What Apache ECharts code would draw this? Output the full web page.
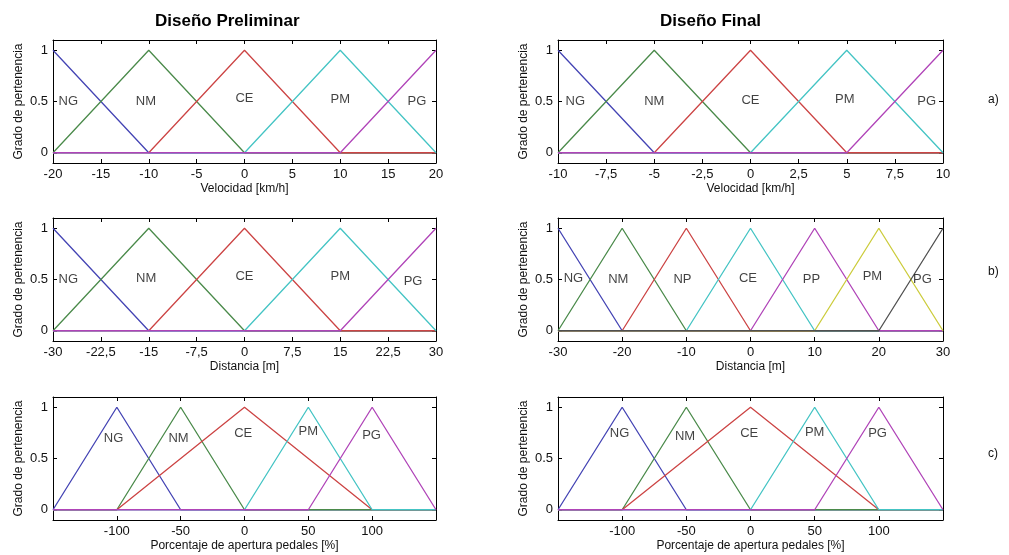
<!DOCTYPE html>
<html><head><meta charset="utf-8">
<script src="https://cdn.jsdelivr.net/npm/echarts@6/dist/echarts.min.js"></script>
<style>html,body{margin:0;padding:0;background:#fff}#c{width:1009px;height:555px}</style>
</head><body><div id="c"></div>
<script>
// ---- data ----
const titles = ['Diseño Preliminar', 'Diseño Final'];
const rowTags = ['a)', 'b)', 'c)'];
const xNames = ['Velocidad [km/h]', 'Distancia [m]', 'Porcentaje de apertura pedales [%]'];
const yName = 'Grado de pertenencia';
const yTicks = [0, 0.5, 1];

// ranges [min, max]
const rangeA1 = [-20, 20], rangeA2 = [-10, 10];
const rangeB1 = [-30, 30], rangeB2 = [-30, 30];
const rangeC1 = [-150, 150], rangeC2 = [-150, 150];
// tick labels
const ticksA1 = [-20, -15, -10, -5, 0, 5, 10, 15, 20];
const ticksA2 = [-10, -7.5, -5, -2.5, 0, 2.5, 5, 7.5, 10];
const ticksB1 = [-30, -22.5, -15, -7.5, 0, 7.5, 15, 22.5, 30];
const ticksB2 = [-30, -20, -10, 0, 10, 20, 30];
const ticksC = [-100, -50, 0, 50, 100];

// membership functions: names and triangle params [a, b, c]
const namesA = ['NG', 'NM', 'CE', 'PM', 'PG'];
const mfA1 = [[-30, -20, -10], [-20, -10, 0], [-10, 0, 10], [0, 10, 20], [10, 20, 30]];
const mfA2 = [[-15, -10, -5], [-10, -5, 0], [-5, 0, 5], [0, 5, 10], [5, 10, 15]];
const mfB1 = [[-45, -30, -15], [-30, -15, 0], [-15, 0, 15], [0, 15, 30], [15, 30, 45]];
const namesB2 = ['NG', 'NM', 'NP', 'CE', 'PP', 'PM', 'PG'];
const mfB2 = [[-40, -30, -20], [-30, -20, -10], [-20, -10, 0], [-10, 0, 10], [0, 10, 20], [10, 20, 30], [20, 30, 40]];
const mfC = [[-150, -100, -50], [-100, -50, 0], [-100, 0, 100], [0, 50, 100], [50, 100, 150]];

// text annotation positions [x, y] (data coords)
const lblA1 = [[-18.4, 0.5], [-10.3, 0.5], [0, 0.53], [10, 0.52], [18, 0.5]];
const lblA2 = [[-9.1, 0.5], [-5, 0.5], [0, 0.51], [4.9, 0.52], [9.15, 0.5]];
const lblB1 = [[-27.6, 0.5], [-15.4, 0.51], [0, 0.53], [15, 0.53], [26.4, 0.48]];
const lblB2 = [[-27.6, 0.51], [-20.6, 0.5], [-10.6, 0.5], [-0.4, 0.51], [9.5, 0.5], [19, 0.53], [26.8, 0.5]];
const lblC1 = [[-102.6, 0.7], [-51.7, 0.7], [-1, 0.745], [50, 0.76], [99.5, 0.73]];
const lblC2 = [[-102, 0.74], [-51, 0.72], [-1, 0.745], [50, 0.75], [99, 0.745]];

const colors = ['#4444b4', '#4a8a4a', '#cc4444', '#44c4c4', '#b044b8', '#cccc3c', '#505050'];

// ---- layout ----
const plots = [
  {grid: {left: 53, top: 40, width: 383, height: 123}, range: rangeA1, ticks: ticksA1, mf: mfA1, names: namesA, lbl: lblA1, xn: xNames[0]},
  {grid: {left: 558, top: 40, width: 385, height: 123}, range: rangeA2, ticks: ticksA2, mf: mfA2, names: namesA, lbl: lblA2, xn: xNames[0]},
  {grid: {left: 53, top: 218, width: 383, height: 123}, range: rangeB1, ticks: ticksB1, mf: mfB1, names: namesA, lbl: lblB1, xn: xNames[1]},
  {grid: {left: 558, top: 218, width: 385, height: 123}, range: rangeB2, ticks: ticksB2, mf: mfB2, names: namesB2, lbl: lblB2, xn: xNames[1]},
  {grid: {left: 53, top: 397, width: 383, height: 123}, range: rangeC1, ticks: ticksC, mf: mfC, names: namesA, lbl: lblC1, xn: xNames[2]},
  {grid: {left: 558, top: 397, width: 385, height: 123}, range: rangeC2, ticks: ticksC, mf: mfC, names: namesA, lbl: lblC2, xn: xNames[2]}
];

function trimf(x, p) {
  const [a, b, c] = p;
  if (x <= a || x >= c) return (x === b) ? 1 : 0;
  if (x <= b) return b === a ? 1 : (x - a) / (b - a);
  return c === b ? 1 : (c - x) / (c - b);
}
function mfPoints(p, range) {
  const xs = [range[0], p[0], p[1], p[2], range[1]]
    .filter(x => x >= range[0] && x <= range[1]);
  const uniq = [...new Set(xs)].sort((u, v) => u - v);
  return uniq.map(x => [x, trimf(x, p)]);
}

const FONT = 'Liberation Sans, Arial, sans-serif';
const fmt = v => String(v).replace('.', ',');
const grids = [], xAxis = [], yAxis = [], series = [];
const lineAx = {show: true, onZero: false, lineStyle: {color: '#000', width: 1}};
const tickAx = vals => ({show: true, inside: true, length: 4, lineStyle: {color: '#000'}, customValues: vals});

plots.forEach((pl, i) => {
  grids.push(Object.assign({containLabel: false}, pl.grid));
  const xi = xAxis.length;
  xAxis.push({
    type: 'value', gridIndex: i, position: 'bottom', min: pl.range[0], max: pl.range[1],
    axisLine: lineAx, axisTick: tickAx(pl.ticks), splitLine: {show: false},
    axisLabel: {customValues: pl.ticks, formatter: fmt, color: '#111', fontSize: 13, fontFamily: FONT, margin: 5, showMinLabel: true, showMaxLabel: true},
    name: pl.xn, nameLocation: 'middle', nameGap: 20,
    nameTextStyle: {fontSize: 12, fontFamily: FONT, color: '#111'}
  });
  xAxis.push({
    type: 'value', gridIndex: i, position: 'top', min: pl.range[0], max: pl.range[1],
    axisLine: lineAx, axisTick: tickAx(pl.ticks), splitLine: {show: false}, axisLabel: {show: false}
  });
  const yi = yAxis.length;
  yAxis.push({
    type: 'value', gridIndex: i, position: 'left', min: -0.1, max: 1.1,
    axisLine: lineAx, axisTick: tickAx(yTicks), splitLine: {show: false},
    axisLabel: {customValues: yTicks, color: '#111', fontSize: 13, fontFamily: FONT, margin: 5},
    name: yName, nameLocation: 'middle', nameRotate: 90, nameGap: 28,
    nameTextStyle: {fontSize: 12, fontFamily: FONT, color: '#111'}
  });
  yAxis.push({
    type: 'value', gridIndex: i, position: 'right', min: -0.1, max: 1.1,
    axisLine: lineAx, axisTick: tickAx(yTicks), splitLine: {show: false}, axisLabel: {show: false}
  });
  pl.mf.forEach((p, k) => {
    series.push({
      type: 'line', xAxisIndex: xi, yAxisIndex: yi, data: mfPoints(p, pl.range),
      showSymbol: false, symbol: 'none', animation: false, silent: true, clip: true,
      lineStyle: {color: colors[k], width: 1.3}
    });
  });
  series.push({
    type: 'scatter', xAxisIndex: xi, yAxisIndex: yi, symbolSize: 0, animation: false, silent: true,
    data: pl.lbl.map((pos, k) => [pos[0], pos[1], pl.names[k]]),
    label: {show: true, position: 'inside', formatter: q => q.value[2], color: '#111', fontSize: 13, fontFamily: FONT},
    z: 5
  });
});

const graphic = [
  {type: 'text', left: 245 - 90, top: 13, style: {text: titles[0], font: 'bold 17px ' + FONT, fill: '#000', width: 180, align: 'center'}},
  {type: 'text', left: 750 - 90, top: 13, style: {text: titles[1], font: 'bold 17px ' + FONT, fill: '#000', width: 180, align: 'center'}},
  {type: 'text', left: 988, top: 94, style: {text: rowTags[0], font: '12px ' + FONT, fill: '#111'}},
  {type: 'text', left: 988, top: 266, style: {text: rowTags[1], font: '12px ' + FONT, fill: '#111'}},
  {type: 'text', left: 988, top: 448, style: {text: rowTags[2], font: '12px ' + FONT, fill: '#111'}}
];

const chart = echarts.init(document.getElementById('c'), null, {renderer: 'canvas'});
chart.setOption({backgroundColor: '#fff', animation: false, grid: grids, xAxis, yAxis, series, graphic});
</script></body></html>
